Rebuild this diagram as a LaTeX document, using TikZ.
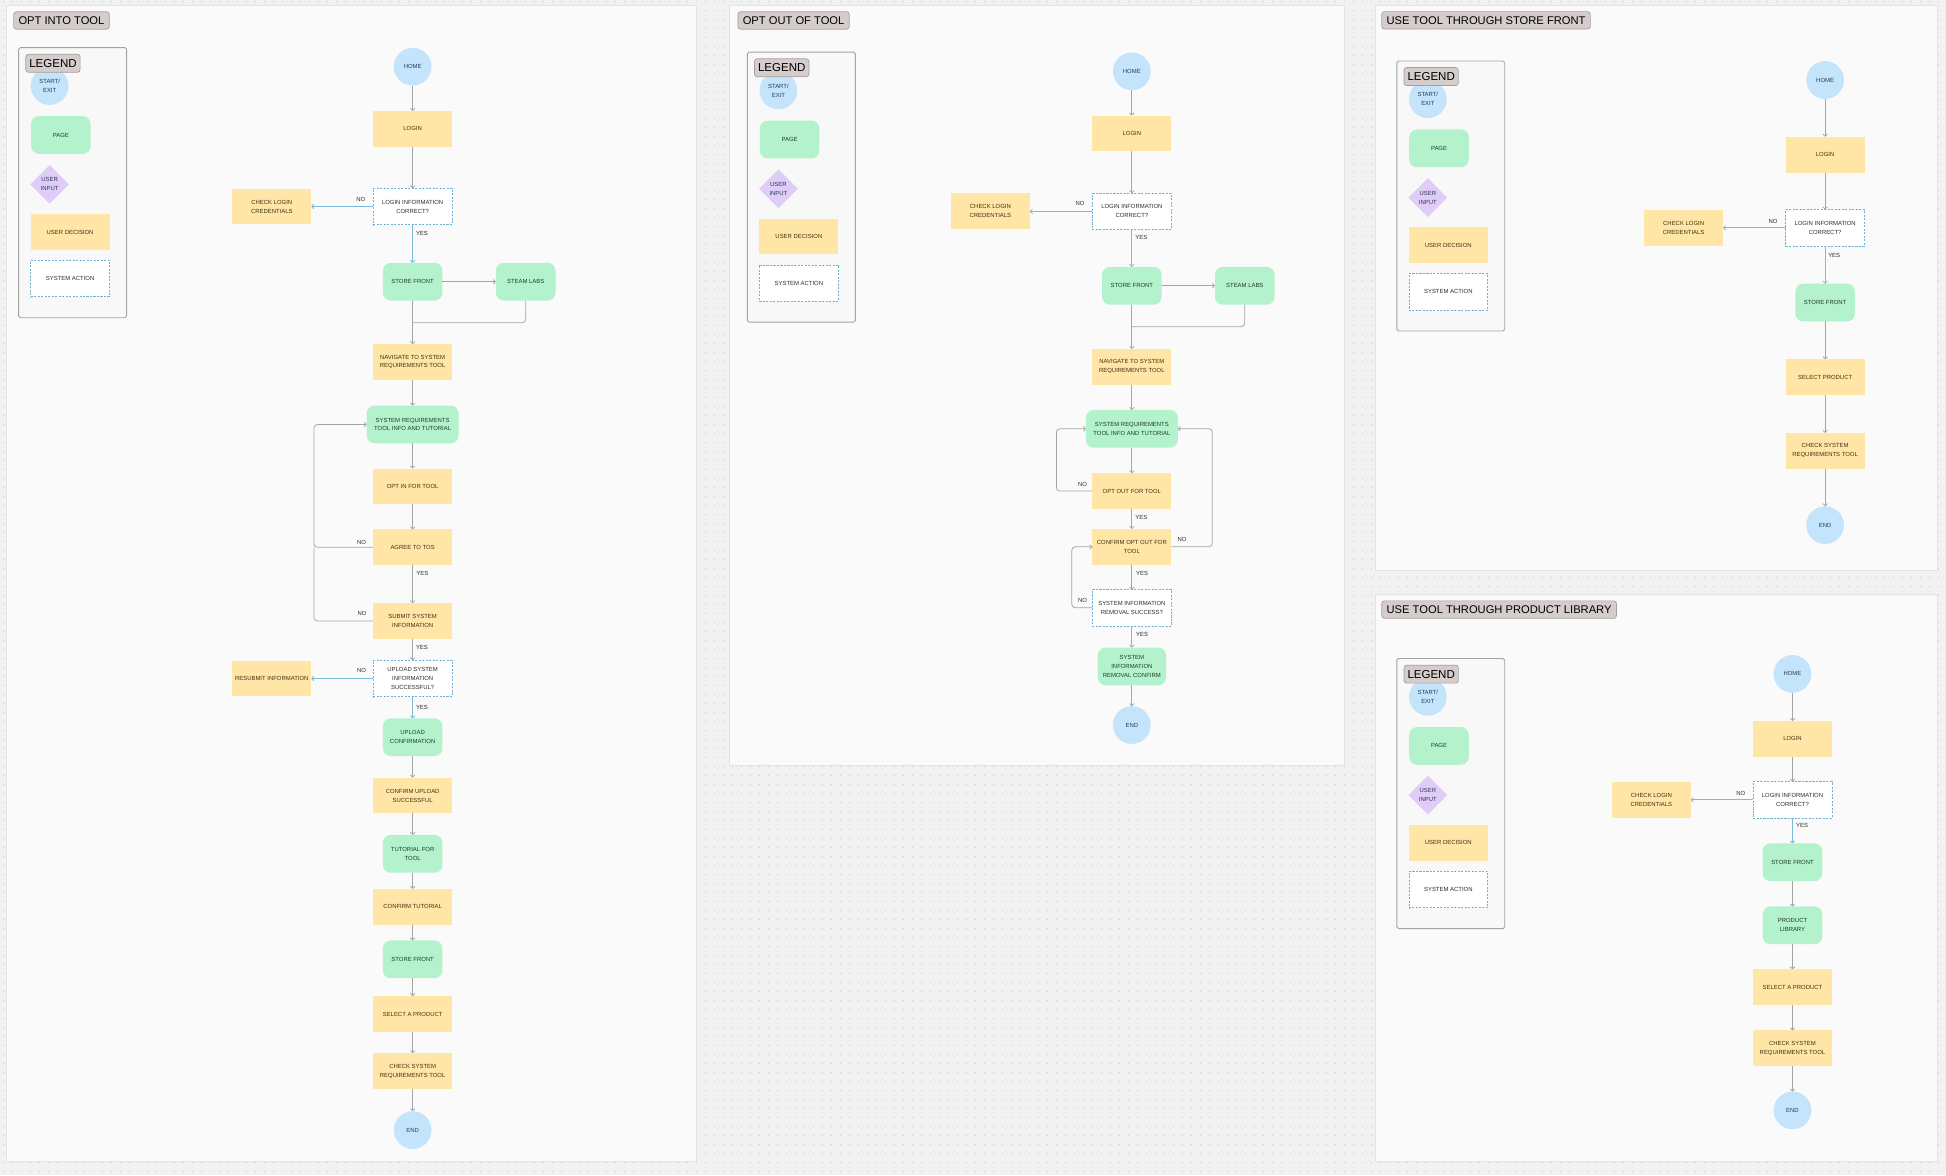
\documentclass[tikz,border=0pt]{standalone}
\usepackage{fontspec}
\setmainfont{Liberation Sans}
\usepackage{xcolor}
\usepackage{tikz}
\usetikzlibrary{positioning,arrows.meta,shapes.geometric,patterns.meta}
\definecolor{canvas}{HTML}{F1F1F1}
\definecolor{dotc}{HTML}{C8C8C8}
\definecolor{pfill}{HTML}{FAFAFA}
\definecolor{pline}{HTML}{E4E4E4}
\definecolor{tagfill}{HTML}{D5CCCC}
\definecolor{tagline}{HTML}{A89E9E}
\definecolor{lgfill}{HTML}{F8F8F8}
\definecolor{lgline}{HTML}{A3A3A3}
\definecolor{tblue}{HTML}{C4E4FB}
\definecolor{tgreen}{HTML}{B3F2CC}
\definecolor{tyellow}{HTML}{FFE6A6}
\definecolor{tlilac}{HTML}{DFCCF7}
\definecolor{tteal}{HTML}{6FB1CF}
\definecolor{cgray}{HTML}{A5A5A5}
\definecolor{cblue}{HTML}{7DB9DA}
\definecolor{tnavy}{HTML}{233A58}
\definecolor{tdgreen}{HTML}{1C3D26}
\definecolor{tbrown}{HTML}{3F3110}
\definecolor{txtgray}{HTML}{2C2C2C}
\tikzdeclarepattern{name=gdots, type=uncolored,
  bounding box={(0pt,0pt) and (5.4pt,5.4pt)}, tile size={(5.4pt,5.4pt)},
  code={\fill (2.7pt,2.7pt) circle (0.35pt);}}

\begin{document}
\begin{tikzpicture}[x=0.025cm, y=-0.025cm, font=\fontsize{3.4}{5.1}\selectfont,
  base/.style={align=center, inner sep=0pt, outer sep=0pt, text=txtgray},
  term/.style={base, circle, fill=tblue, minimum size=0.76cm, text=tnavy},
  page/.style={base, rounded corners=4.5pt, fill=tgreen, minimum width=1.2cm, minimum height=0.76cm, text=tdgreen},
  wide/.style={page, minimum width=1.85cm},
  dec/.style={base, fill=tyellow, minimum width=1.59cm, minimum height=0.72cm, text=tbrown},
  sys/.style={base, draw=tteal, dash pattern=on 1.2pt off 0.8pt, line width=0.4pt, fill=white, minimum width=1.59cm, minimum height=0.73cm},
  inp/.style={base, diamond, aspect=1, fill=tlilac, minimum size=0.78cm, text=tnavy},
  tag/.style={draw=tagline, fill=tagfill, rounded corners=1.5pt, line width=0.4pt, inner xsep=2.8pt, inner ysep=0pt,
    minimum height=10pt, anchor=west, text=black, font=\fontsize{6.4}{7}\selectfont},
  lgtag/.style={tag, inner xsep=2pt, minimum height=10.3pt, font=\fontsize{6.6}{7}\selectfont},
  panel/.style={draw=pline, fill=pfill, line width=0.4pt},
  lgbox/.style={draw=lgline, fill=lgfill, rounded corners=1pt, line width=0.5pt},
  con/.style={draw=cgray, line width=0.45pt, rounded corners=2pt, -{Straight Barb[length=1.2pt,width=2.6pt]}},
  bcon/.style={con, draw=cblue},
  lnk/.style={draw=cgray, line width=0.45pt, rounded corners=2pt},
  lab/.style={inner sep=0pt, text=txtgray}]

\useasboundingbox (0,0) rectangle (1568,947);
\fill[canvas] (0,0) rectangle (1568,947);
\fill[pattern=gdots, pattern color=dotc] (0,0) rectangle (1568,947);

% --- the four boards ---
\draw[panel] (5,4) rectangle (561,936);
\draw[panel] (588,4) rectangle (1083.4,617);
\draw[panel] (1108.4,4) rectangle (1561.3,459.4);
\draw[panel] (1108.4,479) rectangle (1561.3,936);

\node[tag] (t1) at (10.7,16.5) {OPT INTO TOOL};
\node[tag] (t2) at (594.3,16.5) {OPT OUT OF TOOL};
\node[tag] (t3) at (1113.1,16.4) {USE TOOL THROUGH STORE FRONT};
\node[tag] (t4) at (1113.1,491.2) {USE TOOL THROUGH PRODUCT LIBRARY};

% --- one legend per board ---
\foreach \i/\dx/\dy in {1/0/0, 2/587.2/3.6, 3/1110.5/10.7, 4/1110.5/492.2} {
  \begin{scope}[shift={(\dx,\dy)}]
    \draw[lgbox] (15,38.4) rectangle (102,256);
    \node[term] (lgse\i) at (40,69.3) {START/\\EXIT};
    \node[lgtag] (lgt\i) at (20.5,51) {LEGEND};
    \node[page] (lgpg\i) at (49,108.8) {PAGE};
    \node[inp] (lgui\i) at (40,148.5) {USER\\INPUT};
    \node[dec] (lgud\i) at (56.5,187) {USER DECISION};
    \node[sys] (lgsa\i) at (56.5,224.5) {SYSTEM ACTION};
  \end{scope}
}

% --- opt into tool ---
\node[term] (home1) at (332.5,53.7) {HOME};
\node[dec] (login1) at (332.5,103.8) {LOGIN};
\node[sys] (lic1) at (332.5,166.4) {LOGIN INFORMATION\\CORRECT?};
\node[dec] (clc1) at (219,166.4) {CHECK LOGIN\\CREDENTIALS};
\node[page] (sf1) at (332.5,227) {STORE FRONT};
\node[page] (sl1) at (423.6,227) {STEAM LABS};
\node[dec] (nav1) at (332.5,291.7) {NAVIGATE TO SYSTEM\\REQUIREMENTS TOOL};
\node[wide] (sri1) at (332.5,342) {SYSTEM REQUIREMENTS\\TOOL INFO AND TUTORIAL};
\node[dec] (opt1) at (332.5,392) {OPT IN FOR TOOL};
\node[dec] (tos1) at (332.5,441) {AGREE TO TOS};
\node[dec] (sub1) at (332.5,500.4) {SUBMIT SYSTEM\\INFORMATION};
\node[sys] (up1) at (332.5,546.7) {UPLOAD SYSTEM\\INFORMATION\\SUCCESSFUL?};
\node[dec] (res1) at (219,546.7) {RESUBMIT INFORMATION};
\node[page] (upc1) at (332.5,594) {UPLOAD\\CONFIRMATION};
\node[dec] (cus1) at (332.5,641) {CONFIRM UPLOAD\\SUCCESSFUL};
\node[page] (tut1) at (332.5,688) {TUTORIAL FOR\\TOOL};
\node[dec] (ctu1) at (332.5,730.7) {CONFIRM TUTORIAL};
\node[page] (sfb1) at (332.5,773) {STORE FRONT};
\node[dec] (sel1) at (332.5,817) {SELECT A PRODUCT};
\node[dec] (chk1) at (332.5,863) {CHECK SYSTEM\\REQUIREMENTS TOOL};
\node[term] (end1) at (332.5,910.6) {END};

\coordinate (j1) at (332.5,260);
\coordinate (lp1) at (253,342);
\coordinate (lq1) at (253,441);

\draw[con] (home1) -- (login1);
\draw[con] (login1) -- (lic1);
\draw[bcon] (lic1) -- (clc1);
\draw[bcon] (lic1) -- (sf1);
\draw[con] (sf1) -- (sl1);
\draw[con] (sf1) -- (nav1);
\draw[lnk] (sl1.south) |- (j1);
\draw[con] (nav1) -- (sri1);
\draw[con] (sri1) -- (opt1);
\draw[con] (opt1) -- (tos1);
\draw[con] (tos1) -- (sub1);
\draw[con] (tos1.west) -| (lp1) -- (sri1.west);
\draw[lnk] (sub1.west) -| (lq1);
\draw[con] (sub1) -- (up1);
\draw[bcon] (up1) -- (res1);
\draw[bcon] (up1) -- (upc1);
\draw[con] (upc1) -- (cus1);
\draw[con] (cus1) -- (tut1);
\draw[con] (tut1) -- (ctu1);
\draw[con] (ctu1) -- (sfb1);
\draw[con] (sfb1) -- (sel1);
\draw[con] (sel1) -- (chk1);
\draw[con] (chk1) -- (end1);

\node[lab] (n1a) at (290.7,160.6) {NO};
\node[lab] (y1a) at (340,187.8) {YES};
\node[lab] (n1b) at (291.4,436.7) {NO};
\node[lab] (y1b) at (340.3,461.8) {YES};
\node[lab] (n1c) at (291.7,494.5) {NO};
\node[lab] (y1c) at (340,522) {YES};
\node[lab] (n1d) at (291.4,540) {NO};
\node[lab] (y1d) at (340,569.7) {YES};

% --- opt out of tool ---
\node[term] (home2) at (912,57.5) {HOME};
\node[dec] (login2) at (912,107.5) {LOGIN};
\node[sys] (lic2) at (912,170.3) {LOGIN INFORMATION\\CORRECT?};
\node[dec] (clc2) at (798,170.3) {CHECK LOGIN\\CREDENTIALS};
\node[page] (sf2) at (912,230.3) {STORE FRONT};
\node[page] (sl2) at (1003,230.3) {STEAM LABS};
\node[dec] (nav2) at (912,295.5) {NAVIGATE TO SYSTEM\\REQUIREMENTS TOOL};
\node[wide] (sri2) at (912,345.5) {SYSTEM REQUIREMENTS\\TOOL INFO AND TUTORIAL};
\node[dec] (oot2) at (912,395.7) {OPT OUT FOR TOOL};
\node[dec] (coo2) at (912,440.6) {CONFIRM OPT OUT FOR\\TOOL};
\node[sys] (sir2) at (912,489.7) {SYSTEM INFORMATION\\REMOVAL SUCCESS?};
\node[page, minimum width=1.375cm] (src2) at (912,537) {SYSTEM\\INFORMATION\\REMOVAL CONFIRM};
\node[term] (end2) at (912,584.2) {END};

\coordinate (j2) at (912,263.2);
\coordinate (lp2) at (851.2,345.5);
\coordinate (rp2) at (976.8,345.5);
\coordinate (ip2) at (863.6,440.6);

\draw[con] (home2) -- (login2);
\draw[con] (login2) -- (lic2);
\draw[bcon] (lic2) -- (clc2);
\draw[bcon] (lic2) -- (sf2);
\draw[con] (sf2) -- (sl2);
\draw[con] (sf2) -- (nav2);
\draw[lnk] (sl2.south) |- (j2);
\draw[con] (nav2) -- (sri2);
\draw[con] (sri2) -- (oot2);
\draw[con] (oot2) -- (coo2);
\draw[con] (oot2.west) -| (lp2) -- (sri2.west);
\draw[con] (coo2.east) -| (rp2) -- (sri2.east);
\draw[con] (coo2) -- (sir2);
\draw[con] (sir2.west) -| (ip2) -- (coo2.west);
\draw[bcon] (sir2) -- (src2);
\draw[con] (src2) -- (end2);

\node[lab] (n2a) at (870.3,164) {NO};
\node[lab] (y2a) at (919.6,191.2) {YES};
\node[lab] (n2b) at (872.2,390.3) {NO};
\node[lab] (y2b) at (919.6,416.9) {YES};
\node[lab] (n2c) at (952.5,434.6) {NO};
\node[lab] (y2c) at (920.2,461.7) {YES};
\node[lab] (n2d) at (872.2,483.5) {NO};
\node[lab] (y2d) at (920.2,511) {YES};

% --- use tool through store front ---
\node[term] (home3) at (1470.6,64.5) {HOME};
\node[dec] (login3) at (1470.6,124.6) {LOGIN};
\node[sys] (lic3) at (1470.6,183.6) {LOGIN INFORMATION\\CORRECT?};
\node[dec] (clc3) at (1356.6,183.6) {CHECK LOGIN\\CREDENTIALS};
\node[page] (sf3) at (1470.6,243.8) {STORE FRONT};
\node[dec] (sel3) at (1470.6,303.9) {SELECT PRODUCT};
\node[dec] (chk3) at (1470.6,363.2) {CHECK SYSTEM\\REQUIREMENTS TOOL};
\node[term] (end3) at (1470.6,423.1) {END};

\draw[con] (home3) -- (login3);
\draw[con] (login3) -- (lic3);
\draw[bcon] (lic3) -- (clc3);
\draw[bcon] (lic3) -- (sf3);
\draw[con] (sf3) -- (sel3);
\draw[con] (sel3) -- (chk3);
\draw[con] (chk3) -- (end3);

\node[lab] (n3a) at (1428.7,178.7) {NO};
\node[lab] (y3a) at (1477.9,205.5) {YES};

% --- use tool through product library ---
\node[term] (home4) at (1444.3,543) {HOME};
\node[dec] (login4) at (1444.3,595.4) {LOGIN};
\node[sys] (lic4) at (1444.3,644.5) {LOGIN INFORMATION\\CORRECT?};
\node[dec] (clc4) at (1330.6,644.5) {CHECK LOGIN\\CREDENTIALS};
\node[page] (sf4) at (1444.3,694.8) {STORE FRONT};
\node[page] (plib4) at (1444.3,745.6) {PRODUCT\\LIBRARY};
\node[dec] (sel4) at (1444.3,795.5) {SELECT A PRODUCT};
\node[dec] (chk4) at (1444.3,844.7) {CHECK SYSTEM\\REQUIREMENTS TOOL};
\node[term] (end4) at (1444.3,894.7) {END};

\draw[con] (home4) -- (login4);
\draw[con] (login4) -- (lic4);
\draw[bcon] (lic4) -- (clc4);
\draw[bcon] (lic4) -- (sf4);
\draw[con] (sf4) -- (plib4);
\draw[con] (plib4) -- (sel4);
\draw[con] (sel4) -- (chk4);
\draw[con] (chk4) -- (end4);

\node[lab] (n4a) at (1402.6,639.2) {NO};
\node[lab] (y4a) at (1452,665.4) {YES};
\end{tikzpicture}
\end{document}
